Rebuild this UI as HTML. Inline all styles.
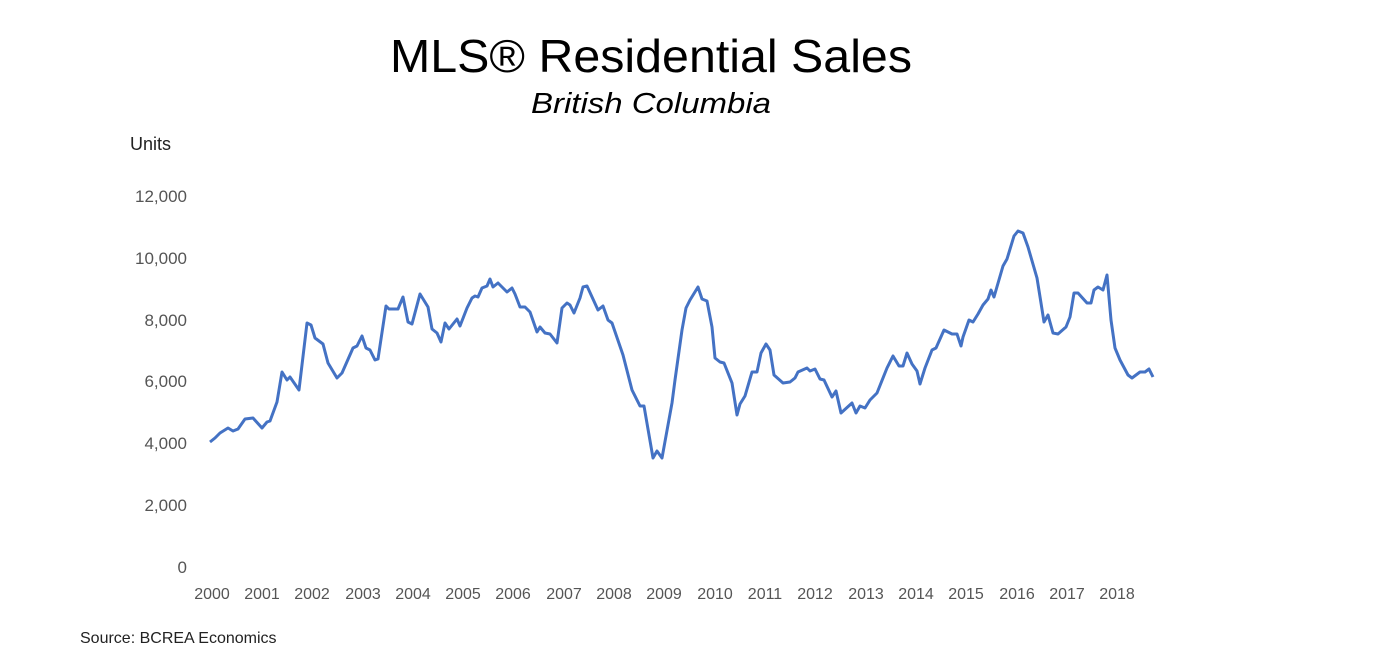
<!DOCTYPE html>
<html><head><style>
body{margin:0;background:#fff;width:1382px;height:660px;overflow:hidden;font-family:"Liberation Sans",sans-serif}
</style></head><body>
<svg width="1382" height="660" xmlns="http://www.w3.org/2000/svg" font-family="Liberation Sans, sans-serif">
<text x="651" y="72" font-size="46" text-anchor="middle" fill="#000" textLength="522" lengthAdjust="spacingAndGlyphs">MLS® Residential Sales</text>
<text x="651" y="113" font-size="29" font-style="italic" text-anchor="middle" fill="#000" textLength="240" lengthAdjust="spacingAndGlyphs">British Columbia</text>
<text x="130" y="150" font-size="18" fill="#222">Units</text>
<g font-size="17" fill="#555" text-anchor="end">
<text x="187" y="573">0</text>
<text x="187" y="511">2,000</text>
<text x="187" y="449">4,000</text>
<text x="187" y="387">6,000</text>
<text x="187" y="326">8,000</text>
<text x="187" y="264">10,000</text>
<text x="187" y="202">12,000</text>
</g>
<g font-size="16" fill="#555" text-anchor="middle">
<text x="212" y="599">2000</text><text x="262" y="599">2001</text><text x="312" y="599">2002</text>
<text x="363" y="599">2003</text><text x="413" y="599">2004</text><text x="463" y="599">2005</text>
<text x="513" y="599">2006</text><text x="564" y="599">2007</text><text x="614" y="599">2008</text>
<text x="664" y="599">2009</text><text x="715" y="599">2010</text><text x="765" y="599">2011</text>
<text x="815" y="599">2012</text><text x="866" y="599">2013</text><text x="916" y="599">2014</text>
<text x="966" y="599">2015</text><text x="1017" y="599">2016</text><text x="1067" y="599">2017</text>
<text x="1117" y="599">2018</text>
</g>
<text x="80" y="643" font-size="16" fill="#222">Source: BCREA Economics</text>
<polyline fill="none" stroke="#4472c4" stroke-width="3" stroke-linejoin="round" points="210,442 215,438 220,433 228,428 233,431 238,429 245,419 253,418 262,428 267,422 270,421 277,402 282,372 287,380 290,377 299,390 307,323 311,325 315,338 323,344 328,363 337,378 342,373 353,348 357,346 362,336 366,348 370,350 375,360 378,359 386,306 389,309 398,309 403,297 408,322 412,324 420,294 428,307 432,329 437,333 441,342 445,323 449,329 457,319 460,326 467,308 472,298 475,296 478,297 482,288 487,286 490,279 493,287 498,283 507,292 512,288 515,294 520,307 525,307 530,312 537,332 540,327 545,333 550,334 557,343 562,308 567,303 570,305 574,313 580,298 583,287 587,286 598,310 603,306 608,320 612,323 623,355 632,390 640,406 644,406 653,458 657,451 662,458 672,403 675,380 682,330 686,308 690,300 698,287 702,299 707,301 712,327 715,358 720,362 724,363 732,383 737,415 740,404 745,396 752,372 757,372 761,353 766,344 770,350 774,375 783,383 790,382 795,378 798,372 807,368 810,371 815,369 820,379 824,380 832,397 836,391 841,413 852,403 856,413 860,406 865,408 870,400 877,393 887,368 893,356 899,366 903,366 907,353 912,364 917,371 920,384 925,368 932,350 936,348 944,330 952,334 957,334 961,346 963,337 969,320 973,322 978,314 983,305 988,299 991,290 994,297 1003,266 1007,259 1014,236 1018,231 1023,233 1028,247 1037,278 1041,303 1044,322 1048,315 1053,333 1058,334 1066,327 1070,317 1074,293 1078,293 1087,303 1091,303 1094,290 1098,287 1103,290 1107,275 1111,320 1115,348 1120,360 1128,375 1132,378 1140,372 1145,372 1149,369 1153,377"/>
</svg>
</body></html>
